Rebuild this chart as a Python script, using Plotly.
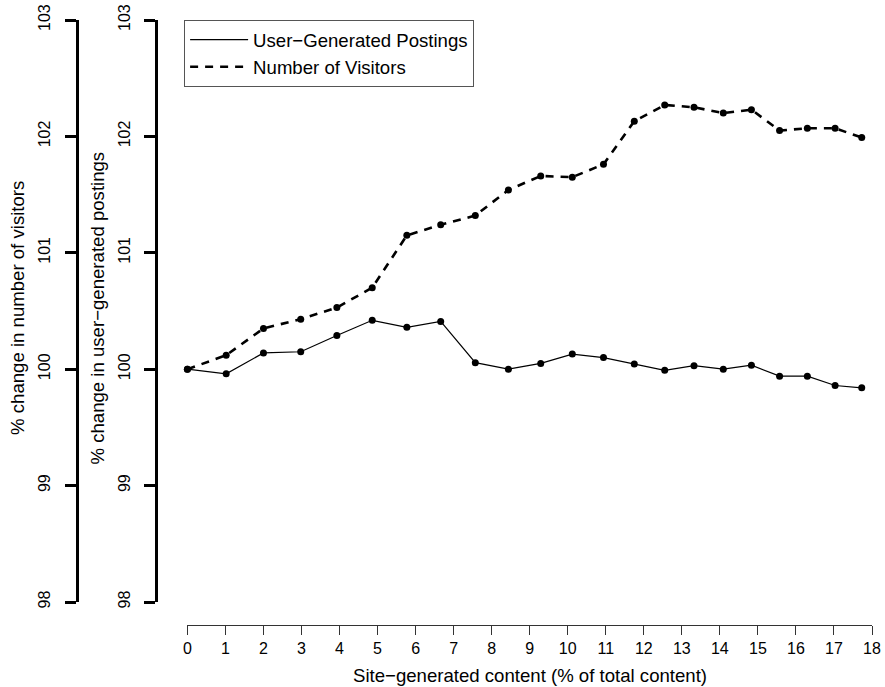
import plotly.graph_objects as go

# ---- data ----
site_content = [0, 1.02, 2.0, 2.98, 3.93, 4.86, 5.77, 6.66, 7.57, 8.44, 9.29,
                10.12, 10.94, 11.75, 12.55, 13.32, 14.09, 14.83, 15.57, 16.30,
                17.03, 17.73]
postings = [100, 99.96, 100.14, 100.15, 100.29, 100.42, 100.36, 100.41, 100.056,
            100.0, 100.05, 100.13, 100.10, 100.045, 99.99, 100.03, 100.0,
            100.035, 99.94, 99.94, 99.86, 99.84]
visitors = [100, 100.12, 100.35, 100.43, 100.53, 100.70, 101.15, 101.24, 101.32,
            101.54, 101.66, 101.65, 101.76, 102.13, 102.27, 102.25, 102.20,
            102.23, 102.05, 102.07, 102.07, 101.99]
x_ticks = list(range(0, 19))
y_ticks = [98, 99, 100, 101, 102, 103]

# ---- layout geometry (pixels) ----
W, H = 885, 687
L, R, T, B = 0, 12.7, 20, 62
pw = W - L - R
ph = H - T - B
def fx(px):
    return (px - L) / pw
def fy(py):
    return (H - B - py) / ph

FONT = "Liberation Sans, Arial, Helvetica, sans-serif"
TICKF = dict(family=FONT, size=16, color="black")
LABF = dict(family=FONT, size=18.6, color="black")

fig = go.Figure()
# lines (legend entries)
fig.add_trace(go.Scatter(x=site_content, y=postings, mode="lines",
                         name="User\u2212Generated Postings",
                         line=dict(color="black", width=1.2),
                         yaxis="y", cliponaxis=False))
fig.add_trace(go.Scatter(x=site_content, y=visitors, mode="lines",
                         name="Number of Visitors",
                         line=dict(color="black", width=2.6, dash="8px,7px"),
                         yaxis="y2", cliponaxis=False))
# markers
fig.add_trace(go.Scatter(x=site_content, y=postings, mode="markers",
                         marker=dict(color="black", size=7),
                         showlegend=False, yaxis="y", cliponaxis=False))
fig.add_trace(go.Scatter(x=site_content, y=visitors, mode="markers",
                         marker=dict(color="black", size=7),
                         showlegend=False, yaxis="y2", cliponaxis=False))

yax_common = dict(range=[98, 103], tickmode="array", tickvals=y_ticks,
                  ticktext=[str(v) for v in y_ticks], tickangle=-90,
                  ticks="outside", ticklen=11, tickwidth=2.5, tickcolor="black",
                  ticklabelstandoff=8,
                  showline=True, linewidth=2.5, linecolor="black",
                  showgrid=False, zeroline=False, tickfont=TICKF,
                  domain=[fy(602), 1], anchor="free", side="left")

fig.update_layout(
    width=W, height=H,
    margin=dict(l=L, r=R, t=T, b=B, pad=0),
    paper_bgcolor="white", plot_bgcolor="white",
    xaxis=dict(range=[0, 18], tickmode="array", tickvals=x_ticks,
               ticktext=[str(v) for v in x_ticks],
               domain=[fx(184.3), 1], anchor="free", position=0,
               ticks="outside", ticklen=9, tickwidth=1, tickcolor="#333",
               showline=True, linewidth=1, linecolor="#333",
               showgrid=False, zeroline=False, tickfont=TICKF),
    yaxis=dict(position=fx(153), **yax_common),
    yaxis2=dict(position=fx(73), overlaying="y", **yax_common),
    legend=dict(x=fx(181), y=1, xanchor="left", yanchor="top",
                bgcolor="white", bordercolor="#555", borderwidth=1,
                font=LABF, itemwidth=58),
    showlegend=True,
)

fig.add_annotation(text="Site\u2212generated content (% of total content)",
                   xref="paper", yref="paper", x=fx((184.3 + 872.3) / 2),
                   y=fy(676), xanchor="center", yanchor="middle",
                   showarrow=False, font=LABF)
fig.add_annotation(text="% change in number of visitors",
                   xref="paper", yref="paper", x=fx(14), y=fy(308),
                   xanchor="center", yanchor="middle", textangle=-90,
                   showarrow=False, font=LABF)
fig.add_annotation(text="% change in user\u2212generated postings",
                   xref="paper", yref="paper", x=fx(94), y=fy(308),
                   xanchor="center", yanchor="middle", textangle=-90,
                   showarrow=False, font=LABF)

fig.write_html("out.html")
